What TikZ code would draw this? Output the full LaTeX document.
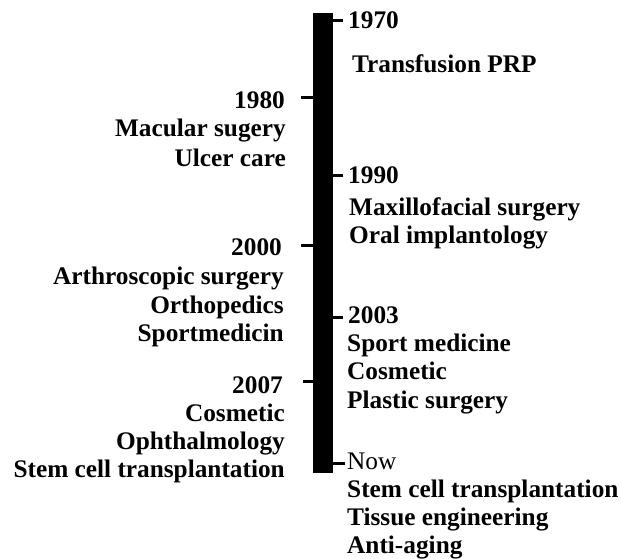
\documentclass[tikz,border=0pt]{standalone}
\usepackage{fontspec}
\setmainfont{Liberation Serif}
\begin{document}
\begin{tikzpicture}[x=1pt,y=-1pt,
  lab/.style={font=\fontsize{25.3}{30}\selectfont\bfseries, inner sep=0pt},
  lft/.style={lab, anchor=base east},
  rgt/.style={lab, anchor=base west},
  tickline/.style={line width=3pt}]
\useasboundingbox (0,0) rectangle (621,559);
% bar
\node[fill=black, inner sep=0pt, minimum width=20pt, minimum height=460pt, anchor=north west] (bar) at (313,13) {};
% tick ends
\coordinate (t1970) at (343,21);
\coordinate (t1980) at (301,98);
\coordinate (t1990) at (343,175);
\coordinate (t2000) at (301,245);
\coordinate (t2003) at (343,317);
\coordinate (t2007) at (303,381);
\coordinate (tnow) at (345,463);
\draw[tickline] (t1970) -- (t1970 -| bar.east);
\draw[tickline] (t1980) -- (t1980 -| bar.west);
\draw[tickline] (t1990) -- (t1990 -| bar.east);
\draw[tickline] (t2000) -- (t2000 -| bar.west);
\draw[tickline] (t2003) -- (t2003 -| bar.east);
\draw[tickline] (t2007) -- (t2007 -| bar.west);
\draw[tickline] (tnow) -- (tnow -| bar.east);
% left column
\node[lft] (y1980) at (285,109) {1980};
\node[lft] (l1) at (286,137) {Macular sugery};
\node[lft] (l2) at (286,166) {Ulcer care};
\node[lft] (y2000) at (282,255) {2000};
\node[lft] (l3) at (284,284) {Arthroscopic surgery};
\node[lft] (l4) at (284,313) {Orthopedics};
\node[lft] (l5) at (284,341) {Sportmedicin};
\node[lft] (y2007) at (283,393) {2007};
\node[lft] (l6) at (285,421) {Cosmetic};
\node[lft] (l7) at (285,449) {Ophthalmology};
\node[lft] (l8) at (285,477) {Stem cell transplantation};
% right column
\node[rgt] (y1970) at (348,29) {1970};
\node[rgt] (r1) at (352,73) {Transfusion PRP};
\node[rgt] (y1990) at (348,183) {1990};
\node[rgt] (r2) at (349,215) {Maxillofacial surgery};
\node[rgt] (r3) at (349,243) {Oral implantology};
\node[rgt] (y2003) at (348,323) {2003};
\node[rgt] (r4) at (347,351) {Sport medicine};
\node[rgt] (r5) at (347,379) {Cosmetic};
\node[rgt] (r6) at (347,408) {Plastic surgery};
\node[rgt, font=\fontsize{25.3}{30}\selectfont\mdseries] (ynow) at (347,469) {Now};
\node[rgt] (r7) at (347,497) {Stem cell transplantation};
\node[rgt] (r8) at (347,525) {Tissue engineering};
\node[rgt] (r9) at (347,553) {Anti-aging};
\end{tikzpicture}
\end{document}
